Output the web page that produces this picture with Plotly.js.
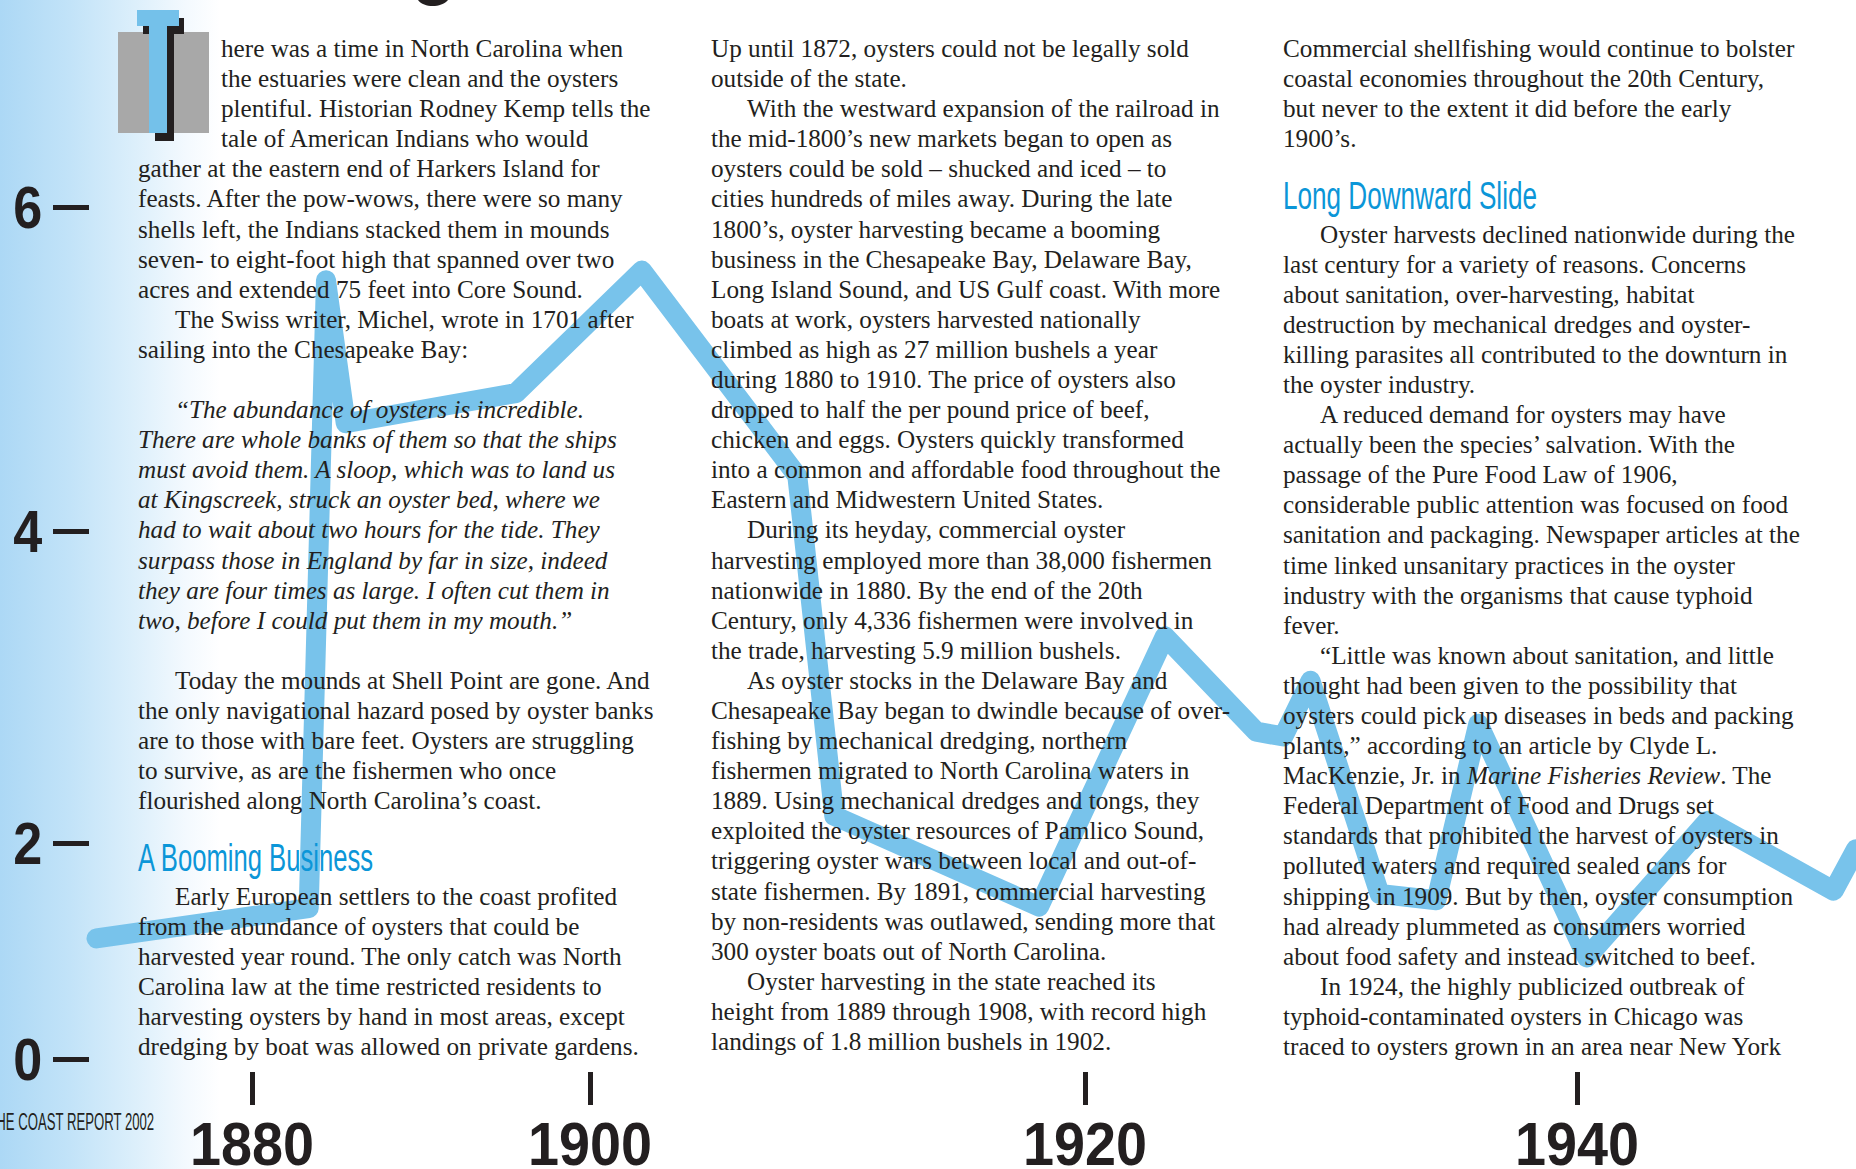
<!DOCTYPE html>
<html>
<head>
<meta charset="utf-8">
<script src="https://cdn.plot.ly/plotly-3.0.1.min.js"></script>
<style>
  html, body { margin: 0; padding: 0; background: #ffffff; overflow: hidden; }
  #chart {
    width: 1856px; height: 1169px;
    background: linear-gradient(to right, rgb(172,216,245) 0px, rgb(194,227,248) 70px, rgb(220,239,251) 135px, rgb(243,249,254) 185px, #ffffff 220px);
  }
  .js-line { stroke-linejoin: round !important; stroke-linecap: round !important; }
</style>
</head>
<body>
<div id="chart"></div>
<script>
// ---------- data ----------
const years   = [1880.0, 1888.6, 1889.3, 1890.1, 1897.0, 1902.1, 1908.4, 1909.9, 1918.2, 1923.3, 1927.0, 1928.1, 1929.2, 1932.0, 1934.3, 1936.0, 1940.4, 1945.3, 1950.4, 1951.3];
const harvest = [1.40,   1.59,   5.54,   4.64,   4.83,   5.60,   4.31,   2.17,   1.60,   3.30,   2.70,   2.67,   3.02,   1.68,   1.64,   2.75,   1.28,   2.14,   1.70,   1.96];

const xTickText = ['1880', '1900', '1920', '1940'];
const yTickText = ['0', '2', '4', '6'];

// ---------- article text ----------
// prefixes: ">" = line beside drop cap, "\t" = paragraph indent, "#" = heading, "" = blank
const col1 = [
  ">here was a time in North Carolina when",
  ">the estuaries were clean and the oysters",
  ">plentiful. Historian Rodney Kemp tells the",
  ">tale of American Indians who would",
  "gather at the eastern end of Harkers Island for",
  "feasts. After the pow-wows, there were so many",
  "shells left, the Indians stacked them in mounds",
  "seven- to eight-foot high that spanned over two",
  "acres and extended 75 feet into Core Sound.",
  "\tThe Swiss writer, Michel, wrote in 1701 after",
  "sailing into the Chesapeake Bay:",
  "",
  "\t<i>“The abundance of oysters is incredible.</i>",
  "<i>There are whole banks of them so that the ships</i>",
  "<i>must avoid them. A sloop, which was to land us</i>",
  "<i>at Kingscreek, struck an oyster bed, where we</i>",
  "<i>had to wait about two hours for the tide. They</i>",
  "<i>surpass those in England by far in size, indeed</i>",
  "<i>they are four times as large. I often cut them in</i>",
  "<i>two, before I could put them in my mouth.”</i>",
  "",
  "\tToday the mounds at Shell Point are gone. And",
  "the only navigational hazard posed by oyster banks",
  "are to those with bare feet. Oysters are struggling",
  "to survive, as are the fishermen who once",
  "flourished along North Carolina’s coast.",
  "",
  "#A Booming Business",
  "\tEarly European settlers to the coast profited",
  "from the abundance of oysters that could be",
  "harvested year round. The only catch was North",
  "Carolina law at the time restricted residents to",
  "harvesting oysters by hand in most areas, except",
  "dredging by boat was allowed on private gardens."
];
const col2 = [
  "Up until 1872, oysters could not be legally sold",
  "outside of the state.",
  "\tWith the westward expansion of the railroad in",
  "the mid-1800’s new markets began to open as",
  "oysters could be sold – shucked and iced – to",
  "cities hundreds of miles away. During the late",
  "1800’s, oyster harvesting became a booming",
  "business in the Chesapeake Bay, Delaware Bay,",
  "Long Island Sound, and US Gulf coast. With more",
  "boats at work, oysters harvested nationally",
  "climbed as high as 27 million bushels a year",
  "during 1880 to 1910. The price of oysters also",
  "dropped to half the per pound price of beef,",
  "chicken and eggs. Oysters quickly transformed",
  "into a common and affordable food throughout the",
  "Eastern and Midwestern United States.",
  "\tDuring its heyday, commercial oyster",
  "harvesting employed more than 38,000 fishermen",
  "nationwide in 1880. By the end of the 20th",
  "Century, only 4,336 fishermen were involved in",
  "the trade, harvesting 5.9 million bushels.",
  "\tAs oyster stocks in the Delaware Bay and",
  "Chesapeake Bay began to dwindle because of over-",
  "fishing by mechanical dredging, northern",
  "fishermen migrated to North Carolina waters in",
  "1889. Using mechanical dredges and tongs, they",
  "exploited the oyster resources of Pamlico Sound,",
  "triggering oyster wars between local and out-of-",
  "state fishermen. By 1891, commercial harvesting",
  "by non-residents was outlawed, sending more that",
  "300 oyster boats out of North Carolina.",
  "\tOyster harvesting in the state reached its",
  "height from 1889 through 1908, with record high",
  "landings of 1.8 million bushels in 1902."
];
const col3 = [
  "Commercial shellfishing would continue to bolster",
  "coastal economies throughout the 20th Century,",
  "but never to the extent it did before the early",
  "1900’s.",
  "",
  "#Long Downward Slide",
  "\tOyster harvests declined nationwide during the",
  "last century for a variety of reasons. Concerns",
  "about sanitation, over-harvesting, habitat",
  "destruction by mechanical dredges and oyster-",
  "killing parasites all contributed to the downturn in",
  "the oyster industry.",
  "\tA reduced demand for oysters may have",
  "actually been the species’ salvation. With the",
  "passage of the Pure Food Law of 1906,",
  "considerable public attention was focused on food",
  "sanitation and packaging. Newspaper articles at the",
  "time linked unsanitary practices in the oyster",
  "industry with the organisms that cause typhoid",
  "fever.",
  "\t“Little was known about sanitation, and little",
  "thought had been given to the possibility that",
  "oysters could pick up diseases in beds and packing",
  "plants,” according to an article by Clyde L.",
  "MacKenzie, Jr. in <i>Marine Fisheries Review</i>. The",
  "Federal Department of Food and Drugs set",
  "standards that prohibited the harvest of oysters in",
  "polluted waters and required sealed cans for",
  "shipping in 1909. But by then, oyster consumption",
  "had already plummeted as consumers worried",
  "about food safety and instead switched to beef.",
  "\tIn 1924, the highly publicized outbreak of",
  "typhoid-contaminated oysters in Chicago was",
  "traced to oysters grown in an area near New York"
];
const footerText = 'THE COAST REPORT 2002';

// ---------- page geometry ----------
const W = 1856, H = 1169;
const pxPerYear = (1577 - 590) / 40;
const X0 = 1900 - 590 / pxPerYear, X1 = X0 + W / pxPerYear;
const pxPerUnit = (843 - 207) / 4;
const Y1 = 2 + 843 / pxPerUnit, Y0 = Y1 - H / pxPerUnit;
// where the printed page puts its tick labels (pixels)
const xTickPx = [252, 590, 1085, 1577];
const yTickPx = [1059, 843, 531, 207];

const PX = x => x / W;
const PY = y => 1 - y / H;

const INK = '#231f20';
const BLUE = '#78c3eb';
const HEAD = '#0b96d8';
const SANS = 'Liberation Sans, Arial, sans-serif';
const bodyFont = {family: 'Liberation Serif, Times New Roman, serif', size: 25.2, color: INK};
const headFont = {family: SANS, size: 39, color: HEAD};

const LH = 30.09, TOP = 48.5, HEAD_SHIFT = 5;
const annotations = [];
const squeeze = {};   // annotation index -> target width (px)
function addColumn(lines, xLeft, xIndent, xDrop, headWidth) {
  let after = 0;
  lines.forEach((raw, i) => {
    if (!raw) return;
    let y = TOP + i * LH + after;
    let x = xLeft, txt = raw, font = bodyFont, isHead = false;
    if (raw[0] === '#') { txt = raw.slice(1); font = headFont; after = HEAD_SHIFT; y = TOP + i * LH - 3; isHead = true; }
    else if (raw[0] === '>') { txt = raw.slice(1); x = xDrop; }
    else if (raw[0] === '\t') { txt = raw.slice(1); x = xIndent; }
    if (isHead) squeeze[annotations.length] = headWidth;
    annotations.push({xref: 'paper', yref: 'paper', x: PX(x), y: PY(y), xanchor: 'left', yanchor: 'middle',
      align: 'left', text: txt, showarrow: false, font: font, borderpad: 0});
  });
}
addColumn(col1, 137, 174, 220, 235);
addColumn(col2, 710, 746, 710, 0);
addColumn(col3, 1282, 1319, 1282, 254);

squeeze[annotations.length] = 166;
annotations.push({xref: 'paper', yref: 'paper', x: PX(155), y: PY(1122), xanchor: 'right', yanchor: 'middle',
  align: 'right', text: footerText, showarrow: false, borderpad: 0,
  font: {family: SANS, size: 23, color: INK}});

// drop cap "T" and the tail of the headline letter at the top
const rectPx = (x0, y0, x1, y1, color) => ({type: 'rect', xref: 'paper', yref: 'paper', layer: 'above',
  x0: PX(x0), x1: PX(x1), y0: PY(y1), y1: PY(y0), fillcolor: color, line: {width: 0}});
const shapes = [
  rectPx(118, 32, 209, 133, '#a8a8a8'),
  rectPx(143, 18, 184, 34, INK),
  rectPx(155, 34, 174, 141, INK),
  rectPx(137, 10, 179, 26, '#74c1ea'),
  rectPx(149, 26, 167, 133, '#74c1ea'),
  {type: 'path', xref: 'paper', yref: 'paper', layer: 'above', fillcolor: INK, line: {width: 0},
   path: `M ${PX(418)} ${PY(0)} C ${PX(424)} ${PY(8)}, ${PX(441)} ${PY(8)}, ${PX(448)} ${PY(0)} Z`}
];

const trace = {
  x: years, y: harvest, type: 'scatter', mode: 'lines',
  line: {color: BLUE, width: 20}, hoverinfo: 'skip'
};

const layout = {
  width: W, height: H,
  margin: {l: 0, r: 0, t: 0, b: 0, pad: 0},
  paper_bgcolor: 'rgba(0,0,0,0)', plot_bgcolor: 'rgba(0,0,0,0)',
  showlegend: false,
  xaxis: {
    range: [X0, X1], domain: [0, 1], anchor: 'free', position: PY(1071), automargin: false,
    showgrid: false, zeroline: false, showline: false,
    ticks: 'outside', ticklen: 33, tickwidth: 5, tickcolor: INK,
    tickmode: 'array', tickvals: xTickPx.map(p => X0 + p / pxPerYear), ticktext: xTickText,
    tickfont: {family: SANS, size: 61, color: INK, weight: 'bold'},
    ticklabelstandoff: -13
  },
  yaxis: {
    range: [Y0, Y1], domain: [0, 1], anchor: 'free', position: PX(89), automargin: false,
    showgrid: false, zeroline: false, showline: false,
    ticks: 'outside', ticklen: 36, tickwidth: 5, tickcolor: INK,
    tickmode: 'array', tickvals: yTickPx.map(p => Y1 - p / pxPerUnit), ticktext: yTickText,
    tickfont: {family: SANS, size: 59, color: INK, weight: 'bold'},
    ticklabelstandoff: -1
  },
  shapes: shapes,
  annotations: annotations
};

// condensed lettering of the printed page: narrow the sans-serif texts
function condense(gd) {
  const fit = (el, w) => { el.setAttribute('textLength', w); el.setAttribute('lengthAdjust', 'spacingAndGlyphs'); };
  gd.querySelectorAll('.xtick text').forEach(el => fit(el, 124));
  gd.querySelectorAll('.ytick text').forEach(el => fit(el, 29));
  gd.querySelectorAll('.annotation').forEach(g => {
    const idx = +g.getAttribute('data-index');
    if (squeeze[idx]) {
      const t = g.querySelector('text.annotation-text');
      if (t) fit(t, squeeze[idx]);
    }
  });
}

Plotly.newPlot('chart', [trace], layout, {displayModeBar: false, staticPlot: true}).then(condense);
</script>
</body>
</html>
